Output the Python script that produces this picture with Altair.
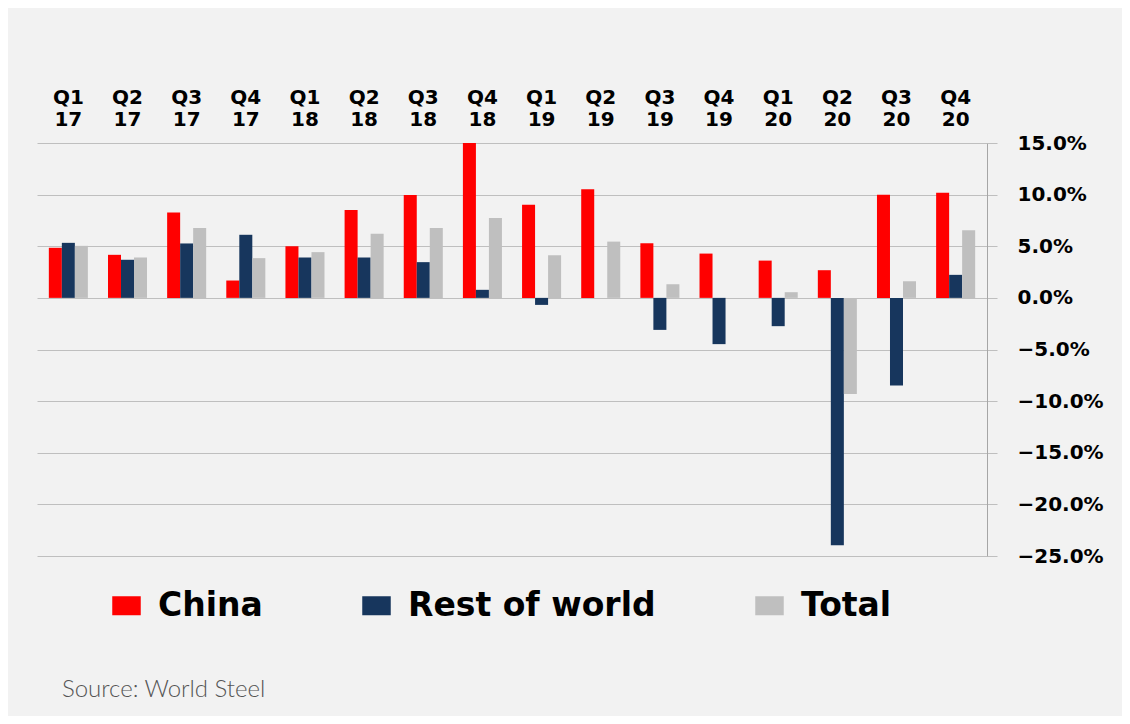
import altair as alt
import pandas as pd

quarters = ["Q1 17", "Q2 17", "Q3 17", "Q4 17", "Q1 18", "Q2 18", "Q3 18", "Q4 18",
            "Q1 19", "Q2 19", "Q3 19", "Q4 19", "Q1 20", "Q2 20", "Q3 20", "Q4 20"]
series = ["China", "Rest of world", "Total"]
china = [4.85, 4.17, 8.28, 1.68, 5.01, 8.50, 9.96, 15.0, 9.03, 10.52, 5.29, 4.29, 3.61, 2.68, 10.0, 10.19]
rest_of_world = [5.33, 3.69, 5.27, 6.11, 3.91, 3.91, 3.46, 0.78, -0.68, 0.0, -3.1, -4.48, -2.74, -23.97, -8.48, 2.23]
total = [5.04, 3.91, 6.76, 3.85, 4.43, 6.21, 6.76, 7.73, 4.13, 5.45, 1.32, 0.0, 0.55, -9.32, 1.61, 6.55]
colors = ["#ff0000", "#17365d", "#bfbfbf"]
y_ticks = [-25, -20, -15, -10, -5, 0, 5, 10, 15]

rows = []
for name, vals in zip(series, [china, rest_of_world, total]):
    for q, v in zip(quarters, vals):
        rows.append({"quarter": q, "series": name, "value": v})
df = pd.DataFrame(rows)

chart = alt.Chart(df).mark_bar().encode(
    x=alt.X("quarter:N", sort=quarters, title=None,
            scale=alt.Scale(paddingInner=0.34),
            axis=alt.Axis(orient="top", labelAngle=0, domain=False, ticks=False,
                          labelExpr="split(datum.label, ' ')", labelLineHeight=22,
                          labelFont="DejaVu Sans", labelFontWeight="bold",
                          labelFontSize=20, labelColor="#000000", labelPadding=36)),
    xOffset=alt.XOffset("series:N", sort=series, scale=alt.Scale(paddingInner=0)),
    y=alt.Y("value:Q", title=None, scale=alt.Scale(domain=[-25, 15], nice=False),
            axis=alt.Axis(orient="right", values=y_ticks,
                          labelExpr="format(datum.value, '.1f') + '%'",
                          grid=True, gridColor="#bfbfbf", gridWidth=1.2,
                          domainColor="#a6a6a6", tickColor="#bfbfbf", tickSize=10,
                          labelFont="DejaVu Sans", labelFontWeight="bold",
                          labelFontSize=20, labelColor="#000000", labelPadding=20,
                          labelAlign="left")),
    color=alt.Color("series:N", sort=series,
                    scale=alt.Scale(domain=series, range=colors),
                    legend=alt.Legend(title=None, orient="none", legendX=73, legendY=446,
                                      direction="horizontal",
                                      symbolType="M-1.5,-1H1.5V1H-1.5Z",
                                      symbolSize=361, symbolStrokeWidth=0,
                                      labelFont="DejaVu Sans", labelFontWeight="bold",
                                      labelFontSize=33, labelColor="#000000",
                                      labelOffset=15, columnPadding=97,
                                      labelLimit=400)),
).properties(
    width=950,
    height=413,
    background="#f2f2f2",
    padding={"left": 29, "top": 135, "right": 135, "bottom": 160},
    autosize=alt.AutoSizeParams(type="none"),
    title=alt.TitleParams("Source: World Steel", orient="bottom", anchor="start",
                          font="Lato", fontWeight=300, fontSize=24, color="#555555",
                          offset=55, dx=25),
).configure_view(stroke=None)

chart.save("out.html", embed_options={"renderer": "svg", "actions": False})
